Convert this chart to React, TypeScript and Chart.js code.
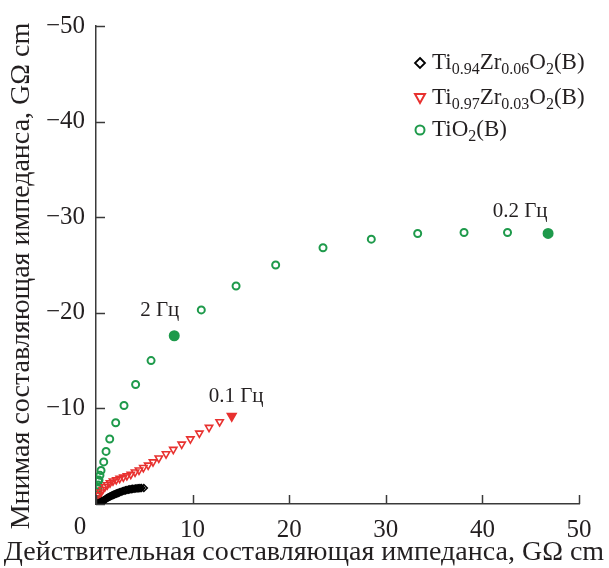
import React, { useEffect, useRef } from 'react';
import { Chart, registerables } from 'chart.js';
Chart.register(...registerables);

// ---- data (GΩ cm) ----
const blackX = [0.05, 0.1, 0.2, 0.3, 0.4, 0.5, 0.6, 0.7, 0.8, 0.9, 1.0, 1.1, 1.2, 1.3, 1.4, 1.5, 1.6, 1.7, 1.8, 1.9, 2.0, 2.1, 2.2, 2.3, 2.45, 2.6, 2.75, 2.9, 3.05, 3.2, 3.35, 3.5, 3.65, 3.8, 3.95, 4.1, 4.25, 4.4, 4.55, 4.7, 4.95];
const blackY = [-0.01, -0.03, -0.06, -0.1, -0.14, -0.19, -0.25, -0.31, -0.38, -0.45, -0.52, -0.59, -0.65, -0.7, -0.76, -0.81, -0.86, -0.91, -0.96, -1.0, -1.04, -1.08, -1.12, -1.16, -1.22, -1.28, -1.33, -1.38, -1.43, -1.47, -1.5, -1.53, -1.56, -1.58, -1.6, -1.62, -1.64, -1.65, -1.66, -1.67, -1.68];

const redX = [0.05, 0.1, 0.18, 0.3, 0.48, 0.69, 0.93, 1.17, 1.45, 1.76, 2.1, 2.45, 2.83, 3.2, 3.6, 4.04, 4.45, 4.9, 5.4, 5.9, 6.5, 7.25, 8.0, 8.87, 9.77, 10.7, 11.7, 12.8, 14.05];
const redY = [-0.1, -0.3, -0.6, -0.94, -1.25, -1.5, -1.8, -2.0, -2.2, -2.4, -2.53, -2.67, -2.8, -2.95, -3.1, -3.33, -3.54, -3.8, -4.06, -4.4, -4.8, -5.24, -5.7, -6.25, -6.8, -7.4, -8.0, -8.6, -9.2];

const greenX = [0.15, 0.16, 0.17, 0.18, 0.2, 0.22, 0.25, 0.31, 0.41, 0.52, 0.8, 1.04, 1.42, 2.04, 2.9, 4.1, 5.7, 8.1, 10.9, 14.5, 18.6, 23.5, 28.5, 33.3, 38.1, 42.6, 46.8];
const greenY = [-0.1, -0.4, -0.8, -1.2, -1.6, -2.0, -2.4, -2.5, -3.0, -3.5, -4.4, -5.5, -6.8, -8.5, -10.3, -12.5, -15.0, -17.6, -20.3, -22.8, -25.0, -26.8, -27.7, -28.3, -28.4, -28.4, -28.3];
const greenFilled = [17, 26];
const redFilled = [28];

const xTicks = [0, 10, 20, 30, 40, 50];
const yTicks = [0, -10, -20, -30, -40, -50];

const legendLabels: [string, boolean][][] = [
  [['Ti', false], ['0.94', true], ['Zr', false], ['0.06', true], ['O', false], ['2', true], ['(B)', false]],
  [['Ti', false], ['0.97', true], ['Zr', false], ['0.03', true], ['O', false], ['2', true], ['(B)', false]],
  [['TiO', false], ['2', true], ['(B)', false]],
];
const freqLabels = ['0.2 Гц', '2 Гц', '0.1 Гц'];
const freqX = [43.9, 6.6, 14.5];
const freqY = [-30.6, -20.2, -11.25];

const xTitle = 'Действительная составляющая импеданса, GΩ cm';
const yTitle = 'Мнимая составляющая импеданса, GΩ cm';

const GREEN = '#1e9a4b';
const RED = '#e8312f';
const BLACK = '#000000';
const TEXT = '#231f20';
const AXIS = '#3a3a3a';
const SERIF = '"Liberation Serif", "Times New Roman", serif';

function pts(xs: number[], ys: number[]) {
  return xs.map((x, i) => ({ x, y: ys[i] }));
}

function drawRich(ctx: CanvasRenderingContext2D, parts: [string, boolean][], x: number, y: number, main: number, sub: number) {
  let cx = x;
  for (const [t, isSub] of parts) {
    ctx.font = `${isSub ? sub : main}px ${SERIF}`;
    ctx.fillText(t, cx, isSub ? y + main * 0.28 : y);
    cx += ctx.measureText(t).width;
  }
}

const decorPlugin = {
  id: 'decor',
  afterDraw(chart: any) {
    const ctx: CanvasRenderingContext2D = chart.ctx;
    const xs = chart.scales.x;
    const ys = chart.scales.y;
    const area = chart.chartArea;
    ctx.save();
    // inward tick marks
    ctx.strokeStyle = AXIS;
    ctx.lineWidth = 1.5;
    for (const v of xTicks) {
      const px = Math.round(xs.getPixelForValue(v)) + 0.5;
      ctx.beginPath();
      ctx.moveTo(px, area.bottom);
      ctx.lineTo(px, area.bottom - 9);
      ctx.stroke();
    }
    for (const v of yTicks) {
      const py = Math.round(ys.getPixelForValue(v)) + 0.5;
      ctx.beginPath();
      ctx.moveTo(area.left, py);
      ctx.lineTo(area.left + 9, py);
      ctx.stroke();
    }
    // shared origin label
    ctx.fillStyle = TEXT;
    ctx.font = `25px ${SERIF}`;
    ctx.textAlign = 'center';
    ctx.textBaseline = 'middle';
    ctx.fillText('0', area.left - 16, area.bottom + 23);
    // axis titles
    ctx.font = `28px ${SERIF}`;
    ctx.fillText(xTitle, 304, 553);
    ctx.save();
    ctx.translate(22, 276);
    ctx.rotate(-Math.PI / 2);
    ctx.fillText(yTitle, 0, 0);
    ctx.restore();
    // frequency annotations
    ctx.font = `21px ${SERIF}`;
    freqLabels.forEach((t, i) => {
      ctx.fillText(t, xs.getPixelForValue(freqX[i]), ys.getPixelForValue(freqY[i]));
    });
    // legend
    const mx = 420;
    const rows = [63, 98, 130];
    ctx.textAlign = 'left';
    ctx.textBaseline = 'middle';
    rows.forEach((ry, i) => {
      ctx.lineWidth = i === 0 ? 1.8 : 2;
      if (i === 0) {
        ctx.strokeStyle = BLACK;
        ctx.beginPath();
        ctx.moveTo(mx, ry - 5); ctx.lineTo(mx + 5, ry); ctx.lineTo(mx, ry + 5); ctx.lineTo(mx - 5, ry); ctx.closePath();
        ctx.stroke();
      } else if (i === 1) {
        ctx.strokeStyle = RED;
        ctx.beginPath();
        ctx.moveTo(mx - 5, ry - 4); ctx.lineTo(mx + 5, ry - 4); ctx.lineTo(mx, ry + 5); ctx.closePath();
        ctx.stroke();
      } else {
        ctx.strokeStyle = GREEN;
        ctx.beginPath();
        ctx.arc(mx, ry, 4.5, 0, Math.PI * 2);
        ctx.stroke();
      }
      ctx.fillStyle = TEXT;
      drawRich(ctx, legendLabels[i], 432, ry, 23, 16);
    });
    ctx.restore();
  },
};

export default function App() {
  const ref = useRef<HTMLCanvasElement | null>(null);
  useEffect(() => {
    if (!ref.current) return;
    const chart = new Chart(ref.current, {
      type: 'scatter',
      data: {
        datasets: [
          {
            label: 'Ti0.94Zr0.06O2(B)',
            data: pts(blackX, blackY),
            pointStyle: 'rectRot',
            pointRadius: 3.5,
            borderWidth: 1.5,
            borderColor: BLACK,
            backgroundColor: 'rgba(255,255,255,0)',
          },
          {
            label: 'Ti0.97Zr0.03O2(B)',
            data: pts(redX, redY),
            pointStyle: 'triangle',
            rotation: 180,
            pointRadius: (c: any) => (redFilled.includes(c.dataIndex) ? 5 : 4.2),
            borderWidth: 1.6,
            borderColor: RED,
            backgroundColor: (c: any) => (redFilled.includes(c.dataIndex) ? RED : 'rgba(255,255,255,0)'),
          },
          {
            label: 'TiO2(B)',
            data: pts(greenX, greenY),
            pointStyle: 'circle',
            pointRadius: (c: any) => (greenFilled.includes(c.dataIndex) ? 4.5 : 3.5),
            borderWidth: 2,
            borderColor: GREEN,
            backgroundColor: (c: any) => (greenFilled.includes(c.dataIndex) ? GREEN : 'rgba(255,255,255,0)'),
          },
        ],
      },
      options: {
        responsive: false,
        animation: false,
        devicePixelRatio: 1,
        layout: { padding: { top: 24, right: 30, left: 0, bottom: 0 } },
        plugins: { legend: { display: false }, tooltip: { enabled: false } },
        scales: {
          x: {
            type: 'linear',
            min: 0,
            max: 50,
            grid: { display: false, drawTicks: false },
            border: { display: true, color: AXIS, width: 1.5 },
            ticks: {
              stepSize: 10,
              font: { family: SERIF, size: 25 },
              color: TEXT,
              padding: 11,
              callback: (v: any) => (v === 0 ? '' : String(v)),
            },
            afterFit: (s: any) => { s.height = 64; },
          },
          y: {
            type: 'linear',
            min: -50,
            max: 0,
            reverse: true,
            grid: { display: false, drawTicks: false },
            border: { display: true, color: AXIS, width: 1.5 },
            ticks: {
              stepSize: 10,
              font: { family: SERIF, size: 25 },
              color: TEXT,
              padding: 11,
              callback: (v: any) => (v === 0 ? '' : '\u2212' + Math.abs(v)),
            },
            afterFit: (s: any) => { s.width = 96; },
          },
        },
      } as any,
      plugins: [decorPlugin],
    });
    return () => chart.destroy();
  }, []);
  return (
    <div style={{ position: 'fixed', left: 0, top: 0, width: 609, height: 568, background: '#fff' }}>
      <canvas ref={ref} width={609} height={568} style={{ width: 609, height: 568, display: 'block' }} />
    </div>
  );
}
